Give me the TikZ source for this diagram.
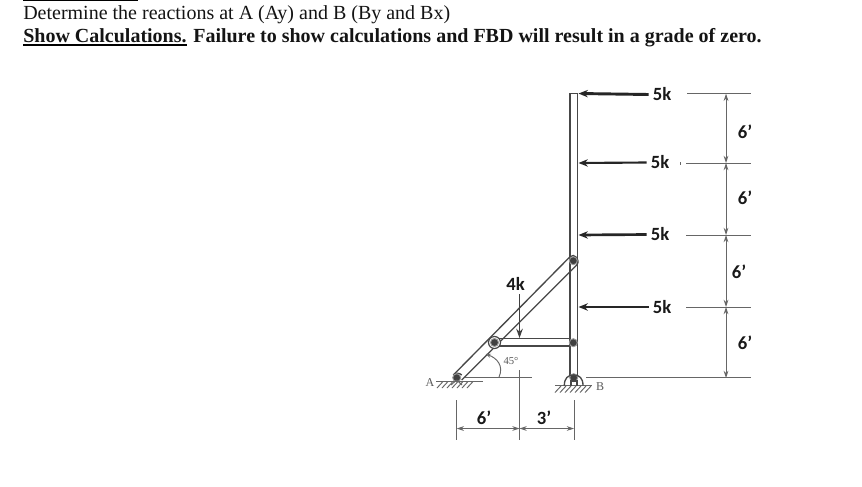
\documentclass[tikz,border=0pt]{standalone}
\usepackage{fontspec}
\setmainfont{Liberation Serif}
\newfontfamily\lab{Carlito}
\usetikzlibrary{arrows.meta}
\definecolor{ink}{gray}{0.28}
\definecolor{thin}{gray}{0.4}
\tikzset{
  member/.style={draw=ink,line width=1pt},
  dim/.style={draw=thin,line width=0.7pt},
  dimarrow/.style={dim,{Stealth[length=5.5pt,width=3.6pt]}-{Stealth[length=5.5pt,width=3.6pt]}},
  load/.style={draw=black!85,line width=1.6pt,-{Stealth[length=7pt,width=5.5pt]}},
  loadthin/.style={draw=black!75,line width=1pt,-{Stealth[length=7pt,width=5pt]}},
  forcelabel/.style={font=\lab\bfseries\fontsize{14}{16}\selectfont,text=black!90,inner sep=0pt},
  serlabel/.style={font=\fontsize{8}{9}\selectfont,text=black!65,inner sep=0pt},
  pin/.style={circle,fill=black!75,draw=black!40,line width=0.7pt,minimum size=6pt,inner sep=0pt},
  ringpin/.style={circle,fill=white,draw=ink,line width=0.9pt,minimum size=9pt,inner sep=0pt},
  headline/.style={anchor=base west,inner sep=0pt,font=\fontsize{15}{17}\selectfont,text=black!92},
}
\begin{document}
\begin{tikzpicture}[x=0.75pt,y=-0.75pt]
\useasboundingbox (0,0) rectangle (862,486);
\fill[white] (0,0) rectangle (862,486);
% header
\draw[black,line width=1pt] (23,0.6) -- (138,0.6);
\node[headline] (t1) at (23,19) {Determine the reactions at A (Ay) and B (By and Bx)};
\node[headline] (t2) at (23,42) {\textbf{Show Calculations. Failure to show calculations and FBD will result in a grade of zero.}};
\path (t2.base west) ++(0,2.5) coordinate (u1) (u1) ++(164,0) coordinate (u2);
\draw[black,line width=1.5pt] (u1) -- (u2);
% column
\draw[member] (570,376) -- (570,93.3) -- (577.3,93.3) -- (577.3,376);
% diagonal
\draw[member] (453.3,375) -- (570,256.7);
\draw[member] (461.7,380) -- (576.7,265);
\draw[member] (453.3,375) arc[start angle=225,end angle=315,radius=6];
\draw[member] (570,256.7) .. controls (574,252.5) and (581,260) .. (576.7,265);
% strut
\draw[member] (494,338.3) -- (570,338.3);
\draw[member] (494,346) -- (570,346);
% pins
\node[ringpin] at (494.5,342.5) {};
\node[pin] (A) at (456.7,377.7) {};
\node[pin] (B) at (573.7,377.7) {};
\node[pin] (C) at (573.3,342.7) {};
\node[pin] (D) at (573.3,260.7) {};
\node[pin] (E) at (494.5,342.5) {};
% supports
\draw[dim] (436,381.3) -- (483,381.3);
\foreach \x in {437,442,...,467} \draw[dim] (\x,388) -- (\x+6,381.5);
\draw[dim] (456.7,380) -- (451,385) (456.7,380) -- (462,385);
\draw[dim] (555,385.7) -- (592,385.7);
\foreach \x in {555,560,...,585} \draw[dim] (\x,392.5) -- (\x+6,386);
\draw[member] (564.3,385.7) .. controls (564.3,378) and (568,375) .. (573.7,375) .. controls (579.4,375) and (583,378) .. (583,385.7);
\draw[member] (571,385.5) -- (571,381) -- (577,381) -- (577,385.5);
% ground references
\coordinate (g1) at (465,377.5);
\coordinate (g2) at (532,377.5);
\coordinate (g3) at (586,377.5);
\coordinate (g4) at (751,377.5);
\draw[dim] (g1) -- (g2);
\draw[dim] (g3) -- (g4);
% 45 arc
\draw[dim,-{Stealth[length=4pt,width=3pt]},{Stealth[length=4pt,width=3pt]}-] (485.5,354) .. controls (497,358) and (504,366) .. (499,377);
\node[serlabel] (ang) at (511,361) {45°};
% dimension verticals
\coordinate (v1t) at (456.7,400); \coordinate (v1b) at (456.7,440);
\coordinate (v2t) at (519.5,370); \coordinate (v2b) at (519.5,440);
\coordinate (v3t) at (574,400); \coordinate (v3b) at (574,440);
\draw[dim] (v1t) -- (v1b);
\draw[dim] (v2t) -- (v2b);
\draw[dim] (v3t) -- (v3b);
\coordinate (h1) at (456.7,428.5);
\coordinate (h2) at (519.5,428.5);
\coordinate (h3) at (574,428.5);
\draw[dimarrow] (h1) -- (h2);
\draw[dimarrow] (h2) -- (h3);
\node[forcelabel] (s6) at (484,418) {6’};
\node[forcelabel] (s3) at (544,418) {3’};
\node[serlabel,font=\fontsize{9}{10}\selectfont] (la) at (430,382.5) {A};
\node[serlabel,font=\fontsize{9}{10}\selectfont] (lb) at (600,387) {B};
% 4k
\node[forcelabel] (f4) at (515.5,283.5) {4k};
\coordinate (f4s) at (519.5,294);
\coordinate (f4e) at (519.5,338);
\draw[loadthin] (f4s) -- (f4e);
% 5k loads
\node[forcelabel] (k1) at (662,94.5) {5k};
\node[forcelabel] (k2) at (660,162.5) {5k};
\node[forcelabel] (k3) at (660,234.5) {5k};
\node[forcelabel] (k4) at (662,307) {5k};
\draw[load,line width=2.2pt] (k1.west) ++(-4,0) -- (578.5,93.5);
\draw[load] (k2.west) ++(-4,0) -- (578.5,163);
\draw[load,line width=2pt] (k3.west) ++(-4,0) -- (578.5,235);
\draw[load] (k4.west) ++(-4,0) -- (578.5,307);
% right dimensions
\coordinate (r0) at (726,93.7);
\coordinate (r1) at (726,163);
\coordinate (r2) at (726,235);
\coordinate (r3) at (726,307);
\coordinate (r4) at (726,378);
\draw[dim] (687,93.7) -- (751,93.7);
\draw[dim] (686,163) -- (751,163);
\draw[dim] (686,235) -- (751,235);
\draw[dim] (686,307) -- (751,307);
\draw[dim] (680.7,162) -- (680.7,164.5);
\draw[dimarrow] (r0) -- (r1);
\draw[dimarrow] (r1) -- (r2);
\draw[dimarrow] (r2) -- (r3);
\draw[dimarrow] (r3) -- (r4);
\node[forcelabel] (d1) at (745,132) {6’};
\node[forcelabel] (d2) at (745,198) {6’};
\node[forcelabel] (d3) at (739,272) {6’};
\node[forcelabel] (d4) at (745,343) {6’};
\end{tikzpicture}
\end{document}
